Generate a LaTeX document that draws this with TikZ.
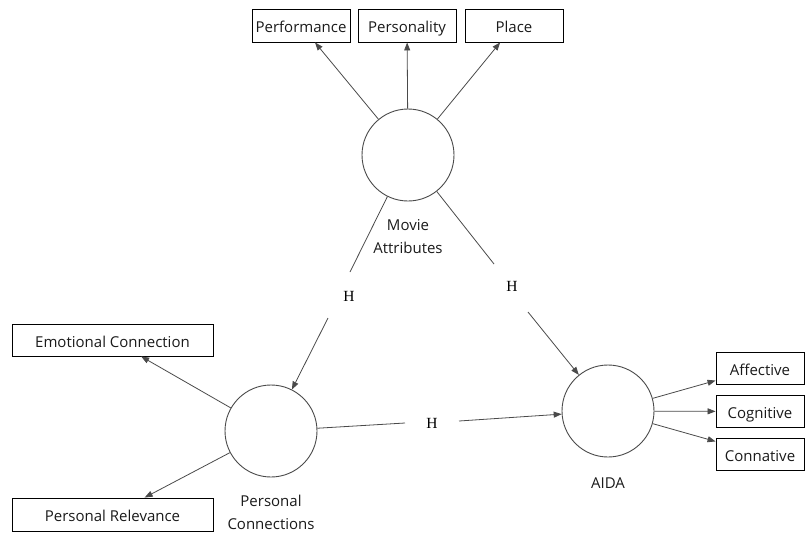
\documentclass[tikz,border=0pt]{standalone}
\usepackage{fontspec}
\setmainfont{Open Sans}
\newfontfamily\hfont{Liberation Serif}
\usetikzlibrary{arrows.meta}
\definecolor{linegray}{HTML}{4A4A4A}
\definecolor{txt}{HTML}{1A1A1A}
\tikzset{
  box/.style={draw=black, line width=0.9pt, rectangle, inner sep=0pt, text=txt,
    text height=14pt, text depth=0pt,
    font=\fontsize{15}{18}\selectfont},
  latent/.style={draw=linegray, line width=0.9pt, circle, minimum size=92pt, inner sep=0pt},
  lbl/.style={align=center, text=txt, font=\fontsize{15}{23}\selectfont, inner sep=0pt},
  hyp/.style={text=black, font=\hfont\fontsize{15.5}{17}\selectfont, inner sep=0pt},
  conn/.style={draw=linegray, line width=0.8pt},
  arr/.style={conn, -{Triangle[width=6pt,length=8pt]}},
}
\begin{document}
\begin{tikzpicture}[x=1pt,y=-1pt]
\useasboundingbox (0,0) rectangle (805,533);
% latent variables
\node[latent] (ma) at (408,155) {};
\node[latent] (pc) at (271,431) {};
\node[latent] (aida) at (608,411) {};
\node[lbl] (malbl) at (408,237) {Movie\\Attributes};
\node[lbl] (pclbl) at (271,512) {Personal\\Connections};
\node[lbl] (aidalbl) at (608,483) {AIDA};
% indicators
\node[box, minimum width=98pt, minimum height=33pt] (perf) at (301,25.5) {Performance};
\node[box, minimum width=98pt, minimum height=33pt] (pers) at (407,25.5) {Personality};
\node[box, minimum width=98pt, minimum height=33pt] (place) at (514,25.5) {Place};
\node[box, minimum width=201pt, minimum height=32pt] (emo) at (112.5,340) {Emotional Connection};
\node[box, minimum width=201pt, minimum height=33pt] (rel) at (112.5,514.5) {Personal Relevance};
\node[box, minimum width=88pt, minimum height=32pt] (aff) at (760,368) {Affective};
\node[box, minimum width=88pt, minimum height=32pt] (cog) at (760,411.5) {Cognitive};
\node[box, minimum width=88pt, minimum height=32pt] (con) at (760,454) {Connative};
% hypothesis labels
\node[hyp] (h1) at (349,296) {H};
\node[hyp] (h2) at (512,286) {H};
\node[hyp] (h3) at (432,423) {H};
\coordinate (h1a) at (350,272);
\coordinate (h1b) at (328,318);
\coordinate (h2a) at (494,264);
\coordinate (h2b) at (528,312);
\coordinate (h3a) at (405,423);
\coordinate (h3b) at (459,421);
% reflective arrows
\draw[arr] (ma) -- (perf);
\draw[arr] (ma) -- (pers);
\draw[arr] (ma) -- (place);
\draw[arr] (pc) -- (emo);
\draw[arr] (pc) -- (rel);
\draw[arr] (aida) -- (aff);
\draw[arr] (aida) -- (cog);
\draw[arr] (aida) -- (con);
% structural paths
\draw[conn] (ma) -- (h1a);
\draw[arr] (h1b) -- (pc);
\draw[conn] (ma) -- (h2a);
\draw[arr] (h2b) -- (aida);
\draw[conn] (pc) -- (h3a);
\draw[arr] (h3b) -- (aida);
\end{tikzpicture}
\end{document}
